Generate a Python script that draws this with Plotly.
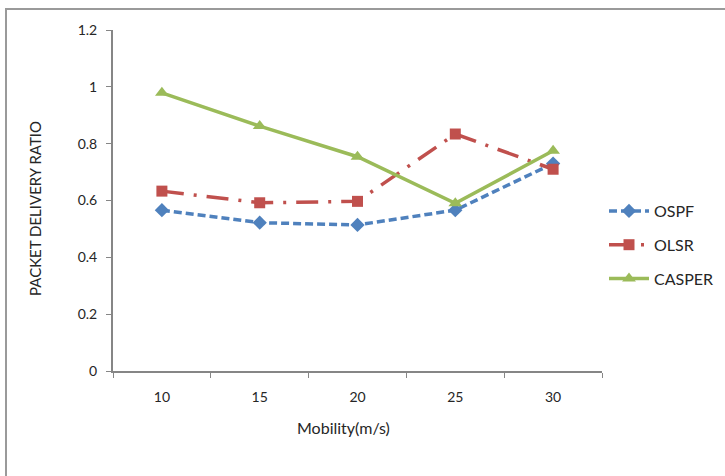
import plotly.graph_objects as go

# Mobility speeds (m/s) and packet delivery ratio per routing protocol
mobility = ["10", "15", "20", "25", "30"]
ospf = [0.566, 0.522, 0.514, 0.566, 0.73]
olsr = [0.633, 0.592, 0.597, 0.834, 0.71]
casper = [0.979, 0.862, 0.754, 0.59, 0.775]
y_ticks = [0, 0.2, 0.4, 0.6, 0.8, 1.0, 1.2]
y_tick_text = ["0", "0.2", "0.4", "0.6", "0.8", "1", "1.2"]

FONT = "Lato, 'Open Sans', sans-serif"
TEXT = "#262626"
AXIS = "#868686"

fig = go.Figure()
fig.add_trace(go.Scatter(
    x=mobility, y=ospf, name="OSPF", mode="lines+markers", legendgroup="a",
    line=dict(color="#4F81BD", width=3.5, dash="8px,4px"),
    marker=dict(symbol="diamond", size=11, color="#4F81BD"),
))
fig.add_trace(go.Scatter(
    x=mobility, y=olsr, name="OLSR", mode="lines+markers", legendgroup="b",
    line=dict(color="#C0504D", width=3.5, dash="22px,10px,3px,10px"),
    marker=dict(symbol="square", size=11, color="#C0504D"),
))
fig.add_trace(go.Scatter(
    x=mobility, y=casper, name="CASPER", mode="lines+markers", legendgroup="c",
    line=dict(color="#9BBB59", width=3.5),
    marker=dict(symbol="triangle-up", size=12, color="#9BBB59"),
))

# plot area spans x 113..602, y 30..371 in a 725x476 page
L, R, T, B = 113, 725 - 602, 30, 476 - 371
pw, ph = 725 - L - R, 476 - T - B

def px(x):
    return (x - L) / pw

def py(y):
    return (476 - B - y) / ph

fig.update_layout(
    width=725, height=476,
    margin=dict(l=L, r=R, t=T, b=B, pad=0, autoexpand=False),
    paper_bgcolor="white", plot_bgcolor="white",
    font=dict(family=FONT, size=14, color=TEXT),
    showlegend=True,
    legend=dict(
        x=px(604), y=py(194), xanchor="left", yanchor="top",
        tracegroupgap=10, itemwidth=40,
        font=dict(family=FONT, size=16, color=TEXT),
        bgcolor="rgba(0,0,0,0)",
    ),
    xaxis=dict(
        type="category", range=[-0.5, 4.5],
        showline=True, linecolor=AXIS, linewidth=2,
        ticks="outside", tickson="boundaries", ticklen=5, tickcolor=AXIS, tickwidth=1,
        showgrid=False, zeroline=False,
        tickfont=dict(family=FONT, size=14, color=TEXT),
        ticklabelstandoff=12,
    ),
    yaxis=dict(
        range=[0, 1.2], tickvals=y_ticks, ticktext=y_tick_text,
        showline=True, linecolor=AXIS, linewidth=2,
        ticks="outside", ticklen=5, tickcolor=AXIS, tickwidth=1,
        showgrid=False, zeroline=False,
        tickfont=dict(family=FONT, size=14, color=TEXT),
        ticklabelstandoff=6,
    ),
    annotations=[
        dict(text="PACKET DELIVERY RATIO", textangle=-90, showarrow=False,
             xref="paper", yref="paper", x=px(35), y=py(209),
             xanchor="center", yanchor="middle",
             font=dict(family=FONT, size=15, color=TEXT)),
        dict(text="Mobility(m/s)", showarrow=False,
             xref="paper", yref="paper", x=px(343), y=py(427),
             xanchor="center", yanchor="middle",
             font=dict(family=FONT, size=16, color=TEXT)),
    ],
    shapes=[
        dict(type="rect", xref="paper", yref="paper",
             x0=px(6), y0=py(490), x1=px(740), y1=py(9),
             line=dict(color="#9a9a9a", width=2), fillcolor="rgba(0,0,0,0)",
             layer="below"),
    ],
)

fig.write_html("out.html")
